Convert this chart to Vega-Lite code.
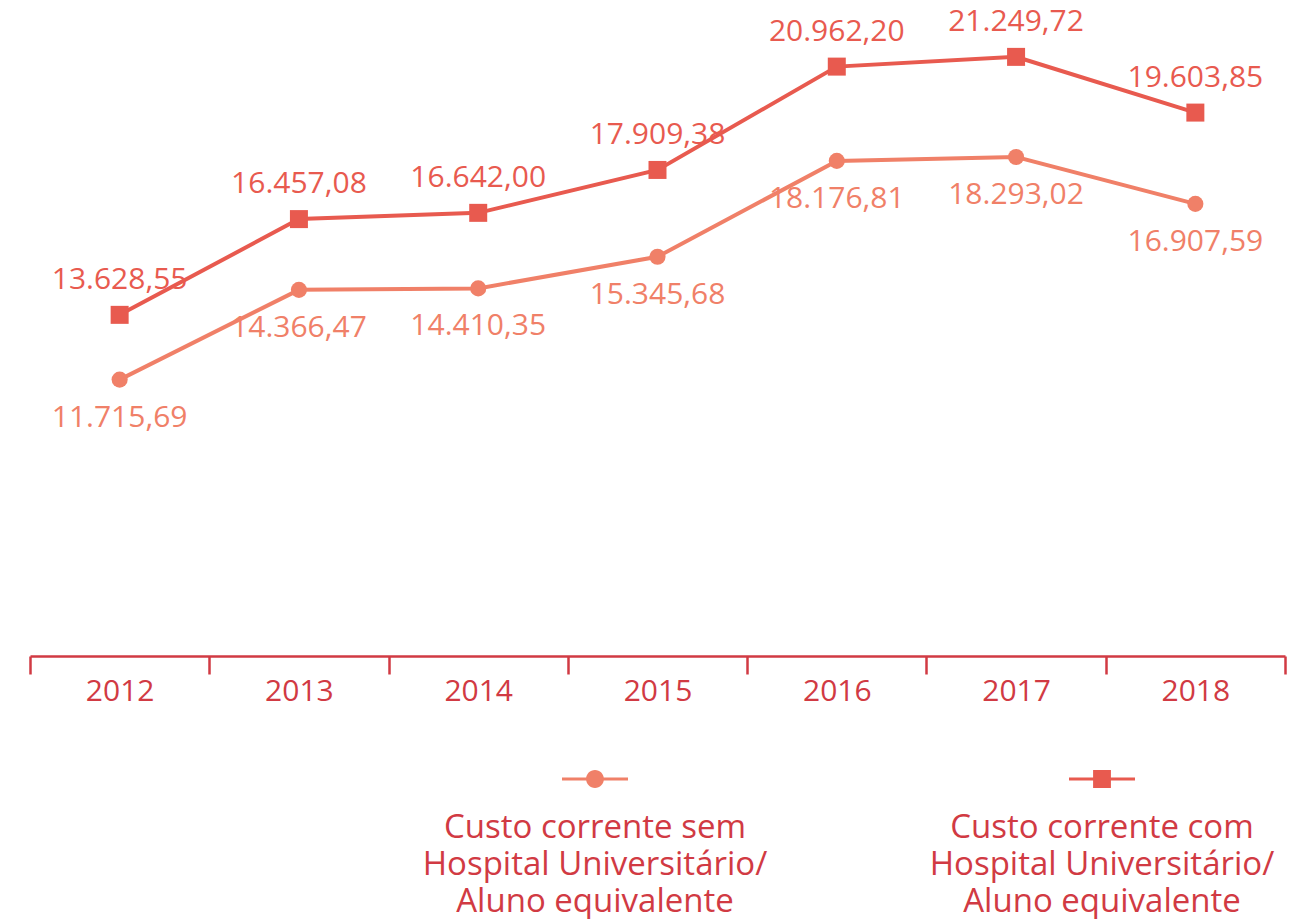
{
  "$schema": "https://vega.github.io/schema/vega-lite/v6.json",
  "width": 1255,
  "height": 656,
  "autosize": {"type": "none"},
  "padding": {"left": 30, "top": 0, "right": 5, "bottom": 263},
  "background": "white",
  "config": {
    "view": {"stroke": null},
    "font": "Open Sans",
    "locale": {"number": {"decimal": ",", "thousands": ".", "grouping": [3], "currency": ["R$", ""]}},
    "axis": {"grid": false}
  },
  "data": {
    "values": [
      {"ano": "2012", "serie": "sem", "valor": 11715.69},
      {"ano": "2013", "serie": "sem", "valor": 14366.47},
      {"ano": "2014", "serie": "sem", "valor": 14410.35},
      {"ano": "2015", "serie": "sem", "valor": 15345.68},
      {"ano": "2016", "serie": "sem", "valor": 18176.81},
      {"ano": "2017", "serie": "sem", "valor": 18293.02},
      {"ano": "2018", "serie": "sem", "valor": 16907.59},
      {"ano": "2012", "serie": "com", "valor": 13628.55},
      {"ano": "2013", "serie": "com", "valor": 16457.08},
      {"ano": "2014", "serie": "com", "valor": 16642.00},
      {"ano": "2015", "serie": "com", "valor": 17909.38},
      {"ano": "2016", "serie": "com", "valor": 20962.20},
      {"ano": "2017", "serie": "com", "valor": 21249.72},
      {"ano": "2018", "serie": "com", "valor": 19603.85}
    ]
  },
  "encoding": {
    "x": {
      "field": "ano", "type": "ordinal",
      "scale": {"paddingInner": 0, "paddingOuter": 0},
      "axis": {
        "title": null, "labelAngle": 0, "tickBand": "extent",
        "domainColor": "#D13A43", "domainWidth": 2.5,
        "tickColor": "#D13A43", "tickWidth": 2.5, "tickSize": 18,
        "labelColor": "#D13A43", "labelFontSize": 30, "labelPadding": 2,
        "labelFont": "Open Sans"
      }
    },
    "y": {
      "field": "valor", "type": "quantitative",
      "scale": {"domain": [3550, 22930], "zero": false, "nice": false},
      "axis": null
    },
    "color": {
      "field": "serie", "type": "nominal",
      "scale": {"domain": ["sem", "com"], "range": ["#F08068", "#E85A4F"]},
      "legend": {
        "title": null,
        "orient": "none",
        "legendX": 532,
        "legendY": 746,
        "direction": "horizontal",
        "columns": 2,
        "columnPadding": 161,
        "symbolType": "circle",
        "symbolSize": 4356,
        "symbolStrokeWidth": 0,
        "labelFontSize": 33,
        "labelColor": "#D13A43",
        "labelFont": "Open Sans",
        "labelLimit": 0,
        "labelAlign": "center",
        "labelBaseline": "top",
        "labelOffset": -33,
        "labelExpr": "datum.value == 'sem' ? ['Custo corrente sem', 'Hospital Universitário/', 'Aluno equivalente'] : ['Custo corrente com', 'Hospital Universitário/', 'Aluno equivalente']",
        "encode": {
          "labels": {"update": {"dy": {"value": 33}, "lineHeight": {"value": 37}}},
          "symbols": {
            "update": {
              "shape": {"signal": "datum.value == 'sem' ? 'M-1,-0.045H1V0.045H-1ZM0.27,0A0.27,0.27 0 1,1 -0.27,0A0.27,0.27 0 1,1 0.27,0Z' : 'M-1,-0.045H1V0.045H-1ZM-0.27,-0.27H0.27V0.27H-0.27Z'"},
              "size": {"value": 4356},
              "fill": {"signal": "datum.value == 'sem' ? '#F08068' : '#E85A4F'"},
              "fillOpacity": {"value": 1},
              "opacity": {"value": 1}
            }
          }
        }
      }
    }
  },
  "layer": [
    {
      "mark": {"type": "line", "strokeWidth": 4}
    },
    {
      "transform": [{"filter": "datum.serie == 'sem'"}],
      "mark": {"type": "point", "shape": "circle", "size": 260, "filled": true, "opacity": 1}
    },
    {
      "transform": [{"filter": "datum.serie == 'com'"}],
      "mark": {"type": "point", "shape": "square", "size": 324, "filled": true, "opacity": 1}
    },
    {
      "transform": [{"filter": "datum.serie == 'com'"}],
      "mark": {"type": "text", "dy": -35, "fontSize": 30, "baseline": "middle"},
      "encoding": {"text": {"field": "valor", "type": "quantitative", "format": ",.2f"}}
    },
    {
      "transform": [{"filter": "datum.serie == 'sem'"}],
      "mark": {"type": "text", "dy": 38, "fontSize": 30, "baseline": "middle"},
      "encoding": {"text": {"field": "valor", "type": "quantitative", "format": ",.2f"}}
    }
  ]
}
